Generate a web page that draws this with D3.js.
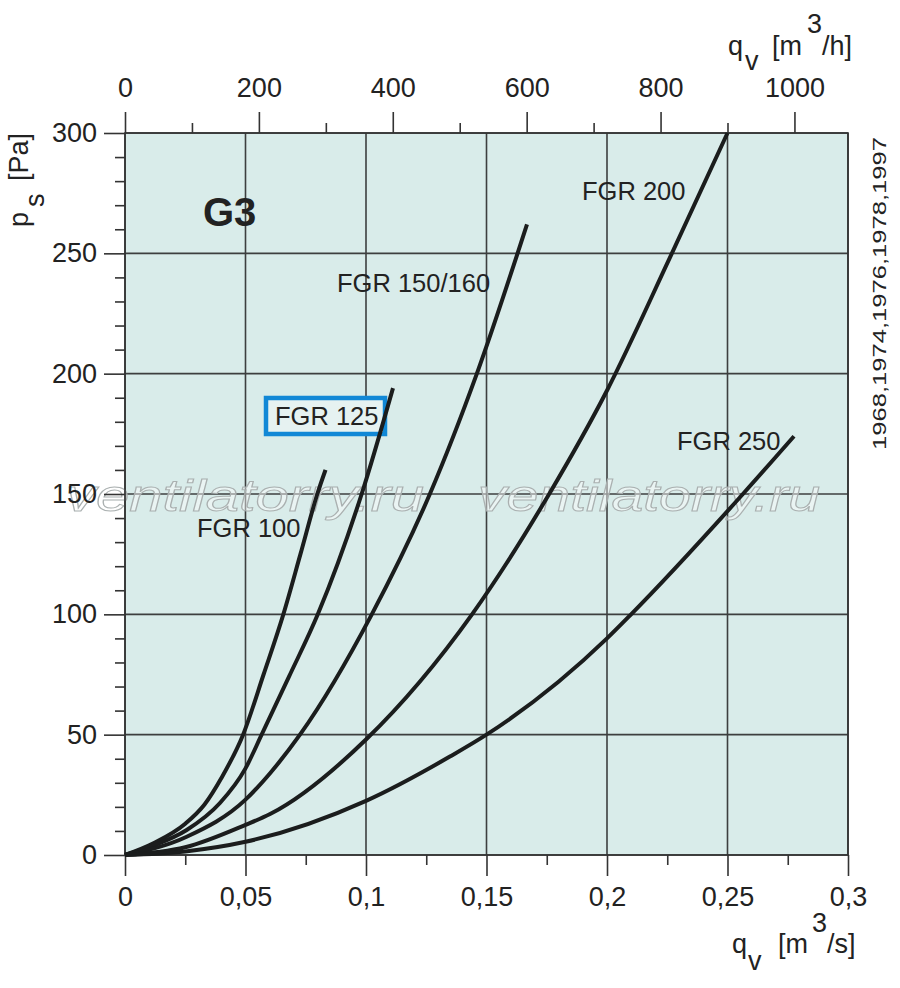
<!DOCTYPE html>
<html>
<head>
<meta charset="utf-8">
<script src="https://cdn.jsdelivr.net/npm/d3@7"></script>
<style>
  body { margin: 0; background: #fff; }
  svg { display: block; font-family: "Liberation Sans", Arial, sans-serif; }
</style>
</head>
<body>
<div id="chart"></div>
<script>
// tick values (q in m3/s, p in Pa, top axis in m3/h)
const xTicks = [0, 0.05, 0.1, 0.15, 0.2, 0.25, 0.3];
const xMinor = [0.025, 0.075, 0.125, 0.175, 0.225, 0.275];
const yTicks = [0, 50, 100, 150, 200, 250, 300];
const yMinor = [10, 20, 30, 40, 60, 70, 80, 90, 110, 120, 130, 140, 160, 170, 180, 190, 210, 220, 230, 240, 260, 270, 280, 290];
const topTicks = [0, 200, 400, 600, 800, 1000];
const topMinor = [100, 300, 500, 700, 900];

// curves: [q m3/s, p Pa]
const fgr100 = [[0, 0], [0.012, 5], [0.025, 13], [0.033, 21], [0.04, 32], [0.049, 50], [0.0575, 75], [0.0657, 100], [0.0728, 125], [0.0798, 150], [0.0832, 160]];
const fgr125 = [[0, 0], [0.012, 4], [0.0256, 10.4], [0.0394, 21.6], [0.05, 36], [0.0567, 50], [0.068, 74], [0.08, 100], [0.0982, 150], [0.1112, 194]];
const fgr150 = [[0, 0], [0.0256, 7.6], [0.05, 23], [0.0602, 34], [0.0726, 50], [0.1024, 100], [0.1265, 150], [0.146, 200], [0.1668, 262]];
const fgr200 = [[0, 0], [0.025, 3.2], [0.05, 12.5], [0.0602, 17], [0.1, 48], [0.144, 100], [0.176, 150], [0.2, 193], [0.226, 248], [0.25, 300]];
const fgr250 = [[0, 0], [0.025, 1.5], [0.05, 5.5], [0.1, 22.5], [0.135, 41], [0.15, 50], [0.2, 90], [0.21, 100], [0.2564, 150], [0.2776, 174]];

const curves = [fgr100, fgr125, fgr150, fgr200, fgr250];
const curveNames = ["FGR 100", "FGR 125", "FGR 150/160", "FGR 200", "FGR 250"];

const width = 900;
const height = 988;
const mLeft = 125, mRight = 848, mTop = 133, mBottom = 855;

const x = d3.scaleLinear().domain([0, 0.3]).range([mLeft, mRight]);
const y = d3.scaleLinear().domain([0, 300]).range([mBottom, mTop]);
// same flow in m3/h for the top axis
const xTop = d3.scaleLinear().domain([0, 0.3 * 3600]).range([mLeft, mRight]);

const comma = (d) => String(d).replace(".", ",");

const svg = d3
  .select("#chart")
  .append("svg")
  .attr("width", width)
  .attr("height", height);

// plot background
svg
  .append("rect")
  .attr("x", mLeft)
  .attr("y", mTop)
  .attr("width", mRight - mLeft)
  .attr("height", mBottom - mTop)
  .attr("fill", "#d9ecea");

// grid
const grid = svg.append("g").attr("stroke", "#3d3f3f").attr("stroke-width", 1.6);
grid
  .selectAll("line.v")
  .data(xTicks)
  .enter()
  .append("line")
  .attr("class", "v")
  .attr("x1", (d) => x(d))
  .attr("x2", (d) => x(d))
  .attr("y1", mTop)
  .attr("y2", mBottom);
grid
  .selectAll("line.h")
  .data(yTicks)
  .enter()
  .append("line")
  .attr("class", "h")
  .attr("x1", mLeft)
  .attr("x2", mRight)
  .attr("y1", (d) => y(d))
  .attr("y2", (d) => y(d));

// watermark
const addWatermark = (x0, len) => {
  svg
    .append("text")
    .attr("x", x0)
    .attr("y", 511)
    .attr("font-size", 44)
    .attr("font-style", "italic")
    .attr("textLength", len)
    .attr("lengthAdjust", "spacingAndGlyphs")
    .attr("fill", "rgba(255,255,255,0.45)")
    .attr("stroke", "#aab0b0")
    .attr("stroke-width", 1)
    .text("ventilatorry.ru");
};
addWatermark(66, 358);
addWatermark(478, 342);

// axes
const styleAxis = (g) => {
  g.select(".domain").remove();
  g.selectAll(".tick line").attr("stroke", "#333").attr("stroke-width", 1.6);
  g.selectAll(".tick text")
    .attr("fill", "#222")
    .attr("font-size", 27)
    .attr("font-family", "Liberation Sans, Arial, sans-serif");
};

svg
  .append("g")
  .attr("transform", `translate(0,${mBottom})`)
  .call(d3.axisBottom(x).tickValues(xTicks).tickSize(21).tickPadding(11).tickFormat(comma))
  .call(styleAxis);
svg
  .append("g")
  .attr("transform", `translate(0,${mBottom})`)
  .call(d3.axisBottom(x).tickValues(xMinor).tickSize(10).tickFormat(""))
  .call(styleAxis);

svg
  .append("g")
  .attr("transform", `translate(${mLeft},0)`)
  .call(d3.axisLeft(y).tickValues(yTicks).tickSize(21).tickPadding(7))
  .call(styleAxis);
svg
  .append("g")
  .attr("transform", `translate(${mLeft},0)`)
  .call(d3.axisLeft(y).tickValues(yMinor).tickSize(10).tickFormat(""))
  .call(styleAxis);

svg
  .append("g")
  .attr("transform", `translate(0,${mTop})`)
  .call(d3.axisTop(xTop).tickValues(topTicks).tickSize(21).tickPadding(15).tickFormat((d) => String(d)))
  .call(styleAxis);
svg
  .append("g")
  .attr("transform", `translate(0,${mTop})`)
  .call(d3.axisTop(xTop).tickValues(topMinor).tickSize(10).tickFormat(""))
  .call(styleAxis);

// frame
svg
  .append("rect")
  .attr("x", mLeft)
  .attr("y", mTop)
  .attr("width", mRight - mLeft)
  .attr("height", mBottom - mTop)
  .attr("fill", "none")
  .attr("stroke", "#333")
  .attr("stroke-width", 1.6);

// highlight box round FGR 125
svg
  .append("rect")
  .attr("x", 266)
  .attr("y", 398)
  .attr("width", 119)
  .attr("height", 36)
  .attr("fill", "#e6f2f1")
  .attr("stroke", "#1188d6")
  .attr("stroke-width", 4.5);

// curves
const line = d3
  .line()
  .x((d) => x(d[0]))
  .y((d) => y(d[1]))
  .curve(d3.curveMonotoneX);

svg
  .append("g")
  .selectAll("path")
  .data(curves)
  .enter()
  .append("path")
  .attr("d", line)
  .attr("fill", "none")
  .attr("stroke", "#1b1d1d")
  .attr("stroke-width", 4)
  .attr("stroke-linecap", "butt");

// curve labels
const labelPos = [
  [197, 537],
  [275, 425],
  [337, 292],
  [582, 200],
  [677, 450],
];
svg
  .append("g")
  .selectAll("text")
  .data(curveNames)
  .enter()
  .append("text")
  .attr("x", (d, i) => labelPos[i][0])
  .attr("y", (d, i) => labelPos[i][1])
  .attr("font-size", 25.5)
  .attr("fill", "#222")
  .text((d) => d);

svg
  .append("text")
  .attr("x", 203)
  .attr("y", 226)
  .attr("font-size", 40)
  .attr("font-weight", "bold")
  .attr("fill", "#222")
  .text("G3");

// axis titles
const addText = (tx, ty, text, size, rot) => {
  svg
    .append("text")
    .attr("transform", `translate(${tx},${ty})${rot ? " rotate(-90)" : ""}`)
    .attr("font-size", size)
    .attr("fill", "#222")
    .text(text);
};

addText(728, 55, "q", 27);
addText(745, 70, "v", 27);
addText(772, 55, "[m", 27);
addText(807, 33, "3", 27);
addText(822, 55, "/h]", 27);

addText(732, 953, "q", 27);
addText(748, 970, "v", 27);
addText(778, 953, "[m", 27);
addText(812, 932, "3", 27);
addText(827, 953, "/s]", 27);

addText(28, 227, "p", 27, true);
addText(44, 207, "s", 27, true);
addText(28, 181, "[Pa]", 27, true);

svg
  .append("text")
  .attr("transform", "translate(886,450) rotate(-90)")
  .attr("font-size", 19)
  .attr("fill", "#222")
  .attr("textLength", 313)
  .attr("lengthAdjust", "spacingAndGlyphs")
  .text("1968,1974,1976,1978,1997");
</script>
</body>
</html>
